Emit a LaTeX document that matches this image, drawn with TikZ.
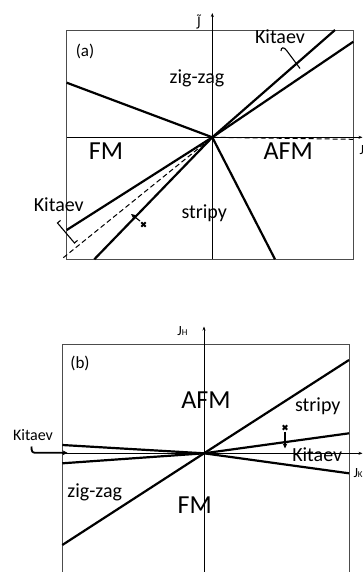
\documentclass[tikz,border=0pt]{standalone}
\usepackage{fontspec}
\setmainfont{Carlito}
\newfontfamily\dejavu{DejaVu Sans}
\usetikzlibrary{arrows.meta}
\begin{document}
\begin{tikzpicture}[x=1pt,y=-1pt,
  frame/.style={draw=black!70,line width=0.6pt},
  axis/.style={line width=0.8pt,-{Stealth[length=4pt,width=3pt]}},
  bound/.style={line width=2.2pt},
  dashline/.style={line width=1pt,dash pattern=on 5pt off 3pt},
  lbl/.style={anchor=base,inner sep=0pt,font=\fontsize{20}{20}\selectfont},
  big/.style={anchor=base,inner sep=0pt,font=\fontsize{26}{26}\selectfont},
  axlbl/.style={anchor=base,inner sep=0pt,font=\fontsize{14}{14}\selectfont},
  ptr/.style={line width=1.1pt},
  ptrarrow/.style={line width=1.1pt,-{Stealth[length=5pt,width=4.5pt]}},
  crossmk/.style={line width=1.8pt}
]
\useasboundingbox (0,0) rectangle (363,572);
\clip (0,0) rectangle (363,572);
\fill[white] (0,0) rectangle (363,572);

% ---------------- panel (a) ----------------
\coordinate (oa) at (212.3,137.3);
\draw[frame] (66.7,30) rectangle (353.3,259.3);
\coordinate (axL) at (66.7,137.3);
\coordinate (axR) at (362.5,137.3);
\coordinate (axB) at (212.3,259.3);
\coordinate (axT) at (212.3,13);
\draw[axis] (axL) -- (axR);
\draw[axis] (axB) -- (axT);

\coordinate (a1u) at (335,30);
\coordinate (a1d) at (94.3,259.3);
\coordinate (a2u) at (353.3,41.7);
\coordinate (a2d) at (66.7,230);
\coordinate (a3) at (66.7,82.7);
\coordinate (a4) at (275,259.3);
\coordinate (ad1) at (63.3,257.7);
\coordinate (ad2) at (353,139.3);
\draw[bound] (a1d) -- (oa) -- (a1u);
\draw[bound] (a2d) -- (oa) -- (a2u);
\draw[bound] (a3) -- (oa) -- (a4);
\draw[dashline] (ad1) -- (oa) -- (ad2);

% pointers (a)
\coordinate (pk1) at (281,51);
\coordinate (pk2) at (300,68.5);
\draw[ptr] (pk1) .. controls (281,47) and (284,46.5) .. (287,51) -- (pk2);
\coordinate (bk1) at (57.5,223);
\coordinate (bk2) at (74.5,243);
\draw[ptr] (60.5,220.4) -- (bk1) -- (bk2) -- (77.5,240.4);
\coordinate (xa) at (143.5,224.5);
\coordinate (xat) at (131,214);
\draw[crossmk] (141.3,222.3) -- (145.7,226.7) (141.3,226.7) -- (145.7,222.3);
\draw[ptrarrow] (140,221) -- (xat);

% labels (a)
\node[lbl,font=\fontsize{17}{17}\selectfont] (la) at (85,56.7) {(a)};
\node[lbl] (zza) at (197,83.5) {zig-zag};
\node[lbl] (kta) at (280,43.3) {Kitaev};
\node[big] (fma) at (106,160) {FM};
\node[big] (afma) at (288.3,160) {AFM};
\node[lbl] (sta) at (204.2,218.3) {stripy};
\node[lbl] (ktb) at (58.8,211.7) {Kitaev};
\node[axlbl] (jt) at (199,27) {{\dejavu\fontsize{13}{13}\selectfont J\symbol{"0303}}};
\node[axlbl,anchor=base west] (ja) at (359.3,155) {J};

% ---------------- panel (b) ----------------
\coordinate (ob) at (204,453.3);
\draw[frame] (62.3,580) -- (62.3,344.3) -- (349,344.3) -- (349,580);
\coordinate (bxL) at (62.3,453.3);
\coordinate (bxR) at (362.5,453.3);
\coordinate (bxB) at (204,580);
\coordinate (bxT) at (204,326.5);
\draw[axis] (bxL) -- (bxR);
\draw[axis] (bxB) -- (bxT);

\coordinate (b1d) at (62.3,545);
\coordinate (b1u) at (349,360);
\coordinate (b2l) at (62.3,445);
\coordinate (b2r) at (349,473.3);
\coordinate (b3l) at (62.3,463.3);
\coordinate (b3r) at (349,433.3);
\draw[bound] (b1d) -- (ob) -- (b1u);
\draw[bound] (b2l) -- (ob) -- (b2r);
\draw[bound] (b3l) -- (ob) -- (b3r);

% pointers (b)
\coordinate (kl1) at (31.5,446.5);
\coordinate (kl2) at (67.5,452.8);
\draw[line width=1.8pt,-{Stealth[length=5pt,width=5pt]}] (kl1) .. controls (31.5,451.5) and (32,452.8) .. (36,452.8) -- (kl2);
\coordinate (xb) at (285,427.5);
\coordinate (xbt) at (285,448.5);
\draw[crossmk] (282.8,425.3) -- (287.2,429.7) (282.8,429.7) -- (287.2,425.3);
\draw[ptrarrow] (285,431.5) -- (xbt);

% labels (b)
\node[lbl,font=\fontsize{17}{17}\selectfont] (lb) at (80,368.3) {(b)};
\node[big] (afmb) at (206,408.3) {AFM};
\node[lbl] (stb) at (317.8,411.7) {stripy};
\node[lbl,font=\fontsize{16}{16}\selectfont] (ktl) at (33,440) {Kitaev};
\node[lbl] (ktr) at (317.2,461.7) {Kitaev};
\node[lbl] (zzb) at (94.7,497.3) {zig-zag};
\node[big] (fmb) at (194.7,513.3) {FM};
\node[axlbl] (jh) at (182.5,335) {J{\fontsize{9}{9}\selectfont H}};
\node[axlbl,anchor=base west] (jk) at (353.3,477) {J{\fontsize{9}{9}\selectfont K}};
\end{tikzpicture}
\end{document}
